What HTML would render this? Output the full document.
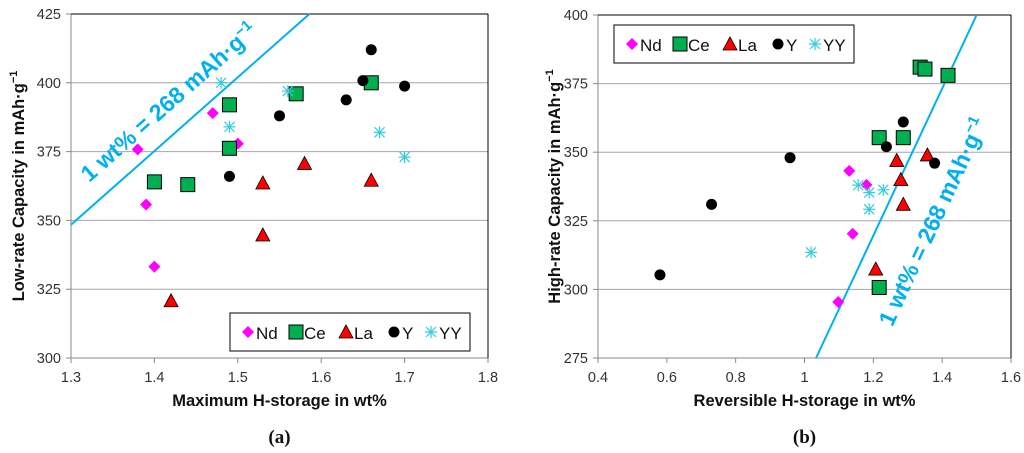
<!DOCTYPE html>
<html><head><meta charset="utf-8">
<style>
html,body{margin:0;padding:0;background:#fff;}
svg{display:block;font-family:"Liberation Sans",Arial,sans-serif;}
.tick{font-size:14.5px;fill:#333;}
.ttl{font-size:16.5px;font-weight:bold;fill:#111;}
.cap{font-family:"Liberation Serif",serif;font-size:19px;font-weight:bold;fill:#111;}
.ann{font-size:23px;font-weight:bold;fill:#00b0f0;}
.leg{font-size:17px;fill:#111;}
</style></head>
<body>
<svg id="chart" width="1024" height="453" viewBox="0 0 1024 453"></svg>
<script>
// ---- data (a) ----
const aNdX=[1.38,1.39,1.40,1.47,1.50];
const aNdY=[375.8,355.8,333.2,389,377.9];
const aCeX=[1.40,1.44,1.49,1.49,1.57,1.66];
const aCeY=[364,363,392,376.2,396,400];
const aLaX=[1.42,1.53,1.53,1.58,1.66];
const aLaY=[320.8,363.6,344.7,370.7,364.6];
const aYX=[1.49,1.55,1.63,1.65,1.66,1.70];
const aYY=[366,388,393.8,400.8,412,398.8];
const aYYX=[1.48,1.49,1.56,1.67,1.70];
const aYYY=[400,384,397,382,373];
const aXTicks=[1.3,1.4,1.5,1.6,1.7,1.8];
const aYTicks=[300,325,350,375,400,425];
// ---- data (b) ----
const bNdX=[1.098,1.13,1.18,1.14];
const bNdY=[295.4,343.2,338.1,320.3];
const bCeX=[1.336,1.35,1.417,1.217,1.287,1.217];
const bCeY=[381,380.3,378,355.3,355.3,300.7];
const bLaX=[1.268,1.28,1.287,1.357,1.207];
const bLaY=[347,340,331,349,307.4];
const bYX=[0.58,0.73,0.958,1.238,1.287,1.378];
const bYY=[305.3,331,348,352,361,346];
const bYYX=[1.019,1.156,1.188,1.188,1.229];
const bYYY=[313.5,338,335.3,329.2,336.3];
const bXTicks=[0.4,0.6,0.8,1.0,1.2,1.4,1.6];
const bXLabels=["0.4","0.6","0.8","1","1.2","1.4","1.6"];
const bYTicks=[275,300,325,350,375,400];
const slope=268;

const NS="http://www.w3.org/2000/svg";
const svg=document.getElementById('chart');
function mk(tag,attrs,parent,text){const e=document.createElementNS(NS,tag);for(const k in attrs)e.setAttribute(k,attrs[k]);if(text!==undefined)e.textContent=text;(parent||svg).appendChild(e);return e;}

function marker(g,type,cx,cy){
  let e;
  if(type==='nd') e=mk('polygon',{points:`${cx},${cy-6} ${cx+6},${cy} ${cx},${cy+6} ${cx-6},${cy}`,fill:'#ff00ff'},g);
  else if(type==='ce') e=mk('rect',{x:cx-7,y:cy-7,width:14,height:14,fill:'#00b050',stroke:'#000','stroke-width':1},g);
  else if(type==='la') e=mk('polygon',{points:`${cx},${cy-7} ${cx+7},${cy+6} ${cx-7},${cy+6}`,fill:'#ff0000',stroke:'#000','stroke-width':0.8},g);
  else if(type==='y') e=mk('circle',{cx:cx,cy:cy,r:5.5,fill:'#000'},g);
  else { e=mk('g',{stroke:'#33ccdd','stroke-width':1.2},g);
    mk('line',{x1:cx-6,y1:cy,x2:cx+6,y2:cy},e);mk('line',{x1:cx,y1:cy-6,x2:cx,y2:cy+6},e);
    mk('line',{x1:cx-5,y1:cy-5,x2:cx+5,y2:cy+5},e);mk('line',{x1:cx-5,y1:cy+5,x2:cx+5,y2:cy-5},e);}
  return e;
}

function panel(o){
  const g=mk('g',{});
  
  
  const sx=v=>o.x0+(v-o.xmin)/(o.xmax-o.xmin)*(o.x1-o.x0);
  const sy=v=>o.y0-(v-o.ymin)/(o.ymax-o.ymin)*(o.y0-o.y1);
  o.yTicks.forEach((t,i)=>{
    if(i>0&&i<o.yTicks.length-1){const gl=mk('line',{x1:o.x0,x2:o.x1,y1:sy(t),y2:sy(t),stroke:'#a6a6a6','stroke-width':1},g);
      }
    mk('line',{x1:o.x0-5,x2:o.x0,y1:sy(t),y2:sy(t),stroke:'#888'},g);
    const tl=mk('text',{x:o.x0-10,y:sy(t)+5,'text-anchor':'end',class:'tick'},g,String(t));
    
  });
  o.xTicks.forEach((t,i)=>{
    mk('line',{x1:sx(t),x2:sx(t),y1:o.y0,y2:o.y0+5,stroke:'#888'},g);
    const tl=mk('text',{x:sx(t),y:o.y0+24,'text-anchor':'middle',class:'tick'},g,o.xLabels[i]);
    
  });
  mk('rect',{x:o.x0,y:o.y1,width:o.x1-o.x0,height:o.y0-o.y1,fill:'none',stroke:'#888'},g);
  mk('line',{x1:o.x0,x2:o.x1,y1:o.y1,y2:o.y1,stroke:'#000'},g);
  mk('line',{x1:o.x1,x2:o.x1,y1:o.y1,y2:o.y0,stroke:'#000'},g);
  const xa=Math.max(o.xmin,(o.ymin-o.b)/slope), xb=Math.min(o.xmax,(o.ymax-o.b)/slope);
  const ln=mk('line',{x1:sx(xa),y1:sy(slope*xa+o.b),x2:sx(xb),y2:sy(slope*xb+o.b),stroke:'#00b0f0','stroke-width':2},g);
  
  const an=mk('text',{x:o.annX,y:o.annY,'text-anchor':'middle',class:'ann',transform:`rotate(${o.annA} ${o.annX} ${o.annY})`},g);
  
  an.textContent='1 wt% = 268 mAh·g';
  mk('tspan',{dy:-9,'font-size':15},an,'−1');
  o.series.forEach(s=>{
    s.xs.forEach((x,i)=>{const m=marker(g,s.type,sx(x),sy(s.ys[i]));
      });
  });
  const lg=mk('g',{},g);
  
  mk('rect',{x:o.lx,y:o.ly,width:240,height:38,fill:'#fff',stroke:'#000'},lg);
  const labs=[['nd','Nd',0],['ce','Ce',48],['la','La',98],['y','Y',146],['yy','YY',183]];
  labs.forEach(l=>{const e=mk('g',{},lg);
    marker(e,l[0],o.lx+18+l[2],o.ly+19);mk('text',{x:o.lx+26+l[2],y:o.ly+26,class:'leg'},e,l[1]);});
  const xt=mk('text',{x:(o.x0+o.x1)/2,y:406,'text-anchor':'middle',class:'ttl'},g,o.xTitle);
  
  const cy=(o.y0+o.y1)/2;
  const yt=mk('text',{x:o.ytx,y:cy,'text-anchor':'middle',class:'ttl',transform:`rotate(-90 ${o.ytx} ${cy})`},g,o.yTitle);
  
  mk('tspan',{dy:-7,'font-size':11},yt,'−1');
  const cp=mk('text',{x:(o.x0+o.x1)/2,y:443,'text-anchor':'middle',class:'cap'},g,o.cap);
  
}

panel({name:'chart-a',x0:71,x1:488,y0:358,y1:14,xmin:1.3,xmax:1.8,ymin:300,ymax:425,b:0,
  xTicks:aXTicks,xLabels:aXTicks.map(v=>v.toFixed(1)),yTicks:aYTicks,
  annX:174,annY:108,annA:-41.5,lx:230,ly:313,
  xTitle:'Maximum H-storage in wt%',yTitle:'Low-rate Capacity in mAh·g',ytx:24,cap:'(a)',
  series:[{type:'nd',xs:aNdX,ys:aNdY},{type:'ce',xs:aCeX,ys:aCeY},{type:'la',xs:aLaX,ys:aLaY},{type:'y',xs:aYX,ys:aYY},{type:'yy',xs:aYYX,ys:aYYY}]});
panel({name:'chart-b',x0:598,x1:1011,y0:358,y1:15,xmin:0.4,xmax:1.6,ymin:275,ymax:400,b:-2,
  xTicks:bXTicks,xLabels:bXLabels,yTicks:bYTicks,
  annX:940,annY:225,annA:-65,lx:614,ly:25,
  xTitle:'Reversible H-storage in wt%',yTitle:'High-rate Capacity in mAh·g',ytx:560,cap:'(b)',
  series:[{type:'nd',xs:bNdX,ys:bNdY},{type:'ce',xs:bCeX,ys:bCeY},{type:'la',xs:bLaX,ys:bLaY},{type:'y',xs:bYX,ys:bYY},{type:'yy',xs:bYYX,ys:bYYY}]});
</script>
</body></html>
